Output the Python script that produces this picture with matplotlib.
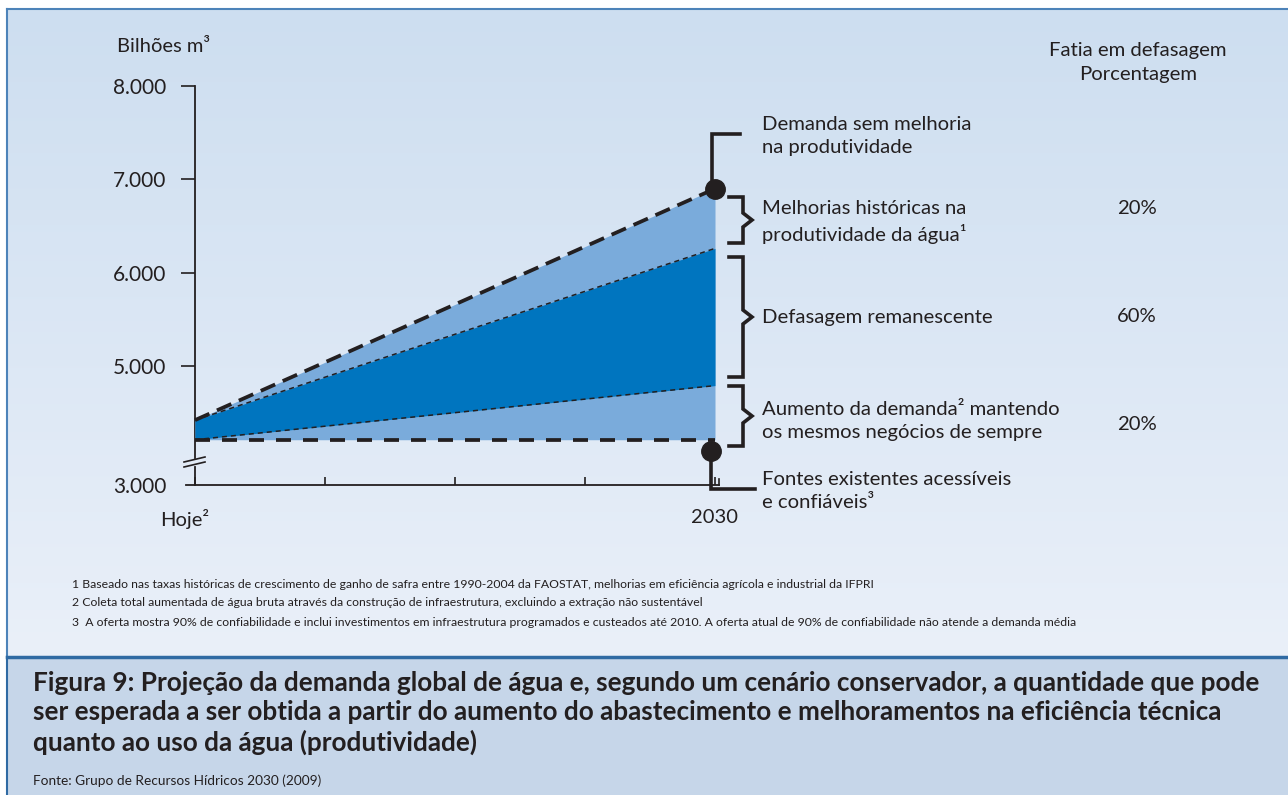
import matplotlib
matplotlib.use("Agg")
import matplotlib.pyplot as plt
import numpy as np
from matplotlib.colors import LinearSegmentedColormap
from matplotlib.patches import Rectangle
from matplotlib.transforms import ScaledTranslation

plt.rcParams['font.family'] = ['Lato', 'DejaVu Sans']

# ---------------- data ----------------
years = [2010, 2030]
demand_no_improvement = [4420, 6900]
after_productivity = [4420, 6260]
supply_increase = [4210, 4790]
existing_supply = [4210, 4210]

y_ticks = [3725, 5000, 6000, 7000, 8000]
y_tick_labels = ['3.000', '5.000', '6.000', '7.000', '8.000']
x_ticks = [2010, 2015, 2020, 2025, 2030]
x_tick_labels = ['Hoje\u00b2', '', '', '', '2030']

labels_right = [
    'Demanda sem melhoria\nna produtividade',
    'Melhorias hist\u00f3ricas na\nprodutividade da \u00e1gua\u00b9',
    'Defasagem remanescente',
    'Aumento da demanda\u00b2 mantendo\nos mesmos neg\u00f3cios de sempre',
    'Fontes existentes acess\u00edveis\ne confi\u00e1veis\u00b3',
]
percentages = ['20%', '60%', '20%']

footnotes = [
    '1 Baseado nas taxas hist\u00f3ricas de crescimento de ganho de safra entre 1990-2004 da FAOSTAT, melhorias em efici\u00eancia agr\u00edcola e industrial da IFPRI',
    '2 Coleta total aumentada de \u00e1gua bruta atrav\u00e9s da constru\u00e7\u00e3o de infraestrutura, excluindo a extra\u00e7\u00e3o n\u00e3o sustent\u00e1vel',
    '3  A oferta mostra 90% de confiabilidade e inclui investimentos em infraestrutura programados e custeados at\u00e9 2010. A oferta atual de 90% de confiabilidade n\u00e3o atende a demanda m\u00e9dia',
]
caption = ('Figura 9: Proje\u00e7\u00e3o da demanda global de \u00e1gua e, segundo um cen\u00e1rio conservador, a quantidade que pode\n'
           'ser esperada a ser obtida a partir do aumento do abastecimento e melhoramentos na efici\u00eancia t\u00e9cnica\n'
           'quanto ao uso da \u00e1gua (produtividade)')
source = 'Fonte: Grupo de Recursos H\u00eddricos 2030 (2009)'

INK = '#231f20'
LIGHT = '#7aabdb'
DARK = '#0075bf'

W, H = 1288, 795
fig = plt.figure(figsize=(W / 100, H / 100), dpi=100)
fig.patch.set_facecolor('white')

# ---------------- background / overlay (pixel coords) ----------------
bg = fig.add_axes([0, 0, 1, 1])
bg.set_xlim(0, W)
bg.set_ylim(H, 0)
bg.axis('off')
grad = np.linspace(0, 1, 256).reshape(-1, 1)
cmap = LinearSegmentedColormap.from_list('g', ['#cddef0', '#eaf0f9'])
bg.imshow(grad, cmap=cmap, extent=[7, W, 656, 9], aspect='auto', zorder=0, interpolation='bilinear')
bg.add_patch(Rectangle((7, 657), W, H - 657, color='#c6d6e9', zorder=0.5, lw=0))
bg.plot([7, W], [9, 9], color='#4d83b9', lw=1.5, zorder=1)
bg.plot([7, 7], [9, 657], color='#4d83b9', lw=1.5, zorder=1)
bg.plot([7, W], [657, 657], color='#2f6aa3', lw=2.5, zorder=1)
bg.plot([7, 7], [657, H], color='#2f6aa3', lw=1.5, zorder=1)

# ---------------- main chart ----------------
ax = fig.add_axes([195 / W, (H - 485) / H, 520 / W, 399 / H])
ax.patch.set_visible(False)
ax.set_xlim(years[0], years[-1])
ax.set_ylim(y_ticks[0], y_ticks[-1])

ax.fill_between(years, existing_supply, demand_no_improvement, color=LIGHT, lw=0, zorder=1)
ax.fill_between(years, supply_increase, after_productivity, color=DARK, lw=0, zorder=2)
ax.plot(years, demand_no_improvement, color=INK, lw=2.7, ls=(0, (4.2, 2.2)), zorder=4, clip_on=False)
ax.plot(years, existing_supply, color=INK, lw=2.7, ls=(0, (4.0, 3.2)), zorder=4, clip_on=False)
ax.plot(years, after_productivity, color=INK, lw=1.1, ls=(0, (3.3, 2.6)), zorder=3, clip_on=False)
ax.plot(years, supply_increase, color=INK, lw=1.1, ls=(0, (3.3, 2.6)), zorder=3, clip_on=False)
ax.plot([years[-1]], [demand_no_improvement[-1]], 'o', ms=14, color=INK, zorder=5, clip_on=False)

for s in ax.spines.values():
    s.set_visible(False)
ax.set_yticks(y_ticks)
ax.set_yticklabels(y_tick_labels)
ax.tick_params(axis='y', direction='out', length=10, width=1.2, color=INK, pad=10.5,
               labelsize=15, labelcolor=INK)
ax.set_xticks(x_ticks)
ax.set_xticklabels(x_tick_labels)
ax.tick_params(axis='x', direction='in', length=6, width=1.2, color=INK, pad=17,
               labelsize=14.5, labelcolor=INK)
xt = ax.get_xticklabels()
xt[0].set_transform(xt[0].get_transform() + ScaledTranslation(-0.10, 0, fig.dpi_scale_trans))
yt = ax.yaxis.get_major_ticks()
yt[0].tick1line.set_visible(False)

# axis lines (with break on y axis)
bg.plot([195, 195], [86, 458], color=INK, lw=1.3, zorder=3)
bg.plot([195, 195], [467, 485], color=INK, lw=1.3, zorder=3)
bg.plot([186, 719], [485, 485], color=INK, lw=1.3, zorder=3)
bg.plot([719, 719], [479, 485], color=INK, lw=1.2, zorder=3)
bg.plot([184, 205], [462, 457], color=INK, lw=1.2, zorder=3)
bg.plot([184, 205], [467, 462], color=INK, lw=1.2, zorder=3)

bg.text(117, 47, 'Bilh\u00f5es m\u00b3', fontsize=14.5, color=INK, va='center', ha='left')

# ---------------- annotations ----------------
bg.plot([712, 712, 740], [188, 134, 134], color=INK, lw=2.6, zorder=3, solid_joinstyle='miter')
bg.plot([711, 711, 755], [451, 489, 489], color=INK, lw=2.6, zorder=3, solid_joinstyle='miter')
bg.plot([711], [451], 'o', ms=14, color=INK, zorder=4)


def brace(top, bot):
    mid = (top + bot) / 2
    xs = [729, 743, 743, 752, 743, 743, 729]
    ys = [top, top, mid - 7, mid, mid + 7, bot, bot]
    bg.plot(xs, ys, color=INK, lw=2.6, zorder=3, solid_joinstyle='miter')


brace(197, 243)
brace(257, 377)
brace(386, 446)

tx = 762
lab_y = [136, 222, 317, 421, 491]
for txt, yy in zip(labels_right, lab_y):
    bg.text(tx, yy, txt, fontsize=14.6, color=INK, va='center', ha='left', linespacing=1.47)

for p, yy in zip(percentages, [209, 317, 424]):
    bg.text(1137, yy, p, fontsize=14.6, color=INK, va='center', ha='center')

bg.text(1138, 62.5, 'Fatia em defasagem\nPorcentagem', fontsize=14.6, color=INK,
        va='center', ha='center', linespacing=1.47)

for fn, yy in zip(footnotes, [584, 603, 623]):
    bg.text(72, yy, fn, fontsize=8.8, color=INK, va='center', ha='left')

bg.text(33, 713, caption, fontsize=18.8, fontweight='bold', color=INK, va='center', ha='left',
        linespacing=1.28)
bg.text(33, 781, source, fontsize=9.8, color=INK, va='center', ha='left')

fig.savefig('out.png', dpi=100)
